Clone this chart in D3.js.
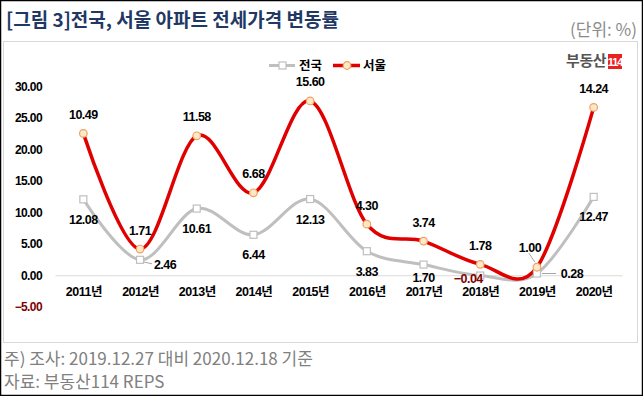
<!DOCTYPE html>
<html>
<head>
<meta charset="utf-8">
<script src="https://cdn.jsdelivr.net/npm/d3@7"></script>
<style>
  body { margin: 0; background: #fff; }
  svg { display: block; font-family: "Liberation Sans", "Noto Sans CJK KR", sans-serif; }
</style>
</head>
<body>
<svg id="chart" width="643" height="396"></svg>
<script>
var years = ["2011년", "2012년", "2013년", "2014년", "2015년", "2016년", "2017년", "2018년", "2019년", "2020년"];
var national = [12.08, 2.46, 10.61, 6.44, 12.13, 3.83, 1.70, -0.04, 0.28, 12.47];
var seoul = [10.49, 1.71, 11.58, 6.68, 15.60, 4.30, 3.74, 1.78, 1.00, 14.24];
var yTicks = [-5, 0, 5, 10, 15, 20, 25, 30];
var seriesNames = ["전국", "서울"];

var svg = d3.select("#chart");

// outer frame and chart box
svg.append("rect")
	.attr("x", 0.5).attr("y", 0.5).attr("width", 642).attr("height", 395)
	.attr("fill", "#fff").attr("stroke", "#000").attr("stroke-width", 1.5);
svg.append("rect")
	.attr("x", 3.5).attr("y", 41.5).attr("width", 634).attr("height", 301)
	.attr("fill", "none").attr("stroke", "#d9d9d9");

svg.append("text")
	.attr("x", 6).attr("y", 27)
	.attr("font-family", "Noto Sans CJK KR")
	.attr("font-weight", "bold").attr("font-size", 19)
	.attr("fill", "#1f3864")
	.text("[그림 3]전국, 서울 아파트 전세가격 변동률");
svg.append("text")
	.attr("x", 637).attr("y", 36)
	.attr("text-anchor", "end")
	.attr("font-family", "Noto Sans CJK KR")
	.attr("font-size", 17).attr("fill", "#8c8c8c")
	.text("(단위: %)");

svg.append("text")
	.attr("x", 4).attr("y", 365)
	.attr("font-family", "Noto Sans CJK KR")
	.attr("font-size", 17).attr("fill", "#808080")
	.text("주) 조사: 2019.12.27 대비 2020.12.18 기준");
svg.append("text")
	.attr("x", 4).attr("y", 388)
	.attr("font-family", "Noto Sans CJK KR")
	.attr("font-size", 17).attr("fill", "#808080")
	.text("자료: 부동산114 REPS");

// logo
svg.append("text")
	.attr("x", 606).attr("y", 66)
	.attr("text-anchor", "end")
	.attr("font-family", "Noto Sans CJK KR")
	.attr("font-weight", "bold").attr("font-size", 15)
	.attr("letter-spacing", -0.5)
	.attr("fill", "#555")
	.text("부동산");
svg.append("rect")
	.attr("x", 608).attr("y", 54).attr("width", 14).attr("height", 15)
	.attr("fill", "#e8231f");
svg.append("text")
	.attr("x", 615).attr("y", 66)
	.attr("text-anchor", "middle")
	.attr("font-weight", "bold").attr("font-size", 11)
	.attr("letter-spacing", -1)
	.attr("fill", "#fff")
	.text("114");

var x = d3.scalePoint().domain(years).range([55, 622]).padding(0.5);
var y = d3.scaleLinear().domain([-5, 30]).range([306.7, 86.7]);

// seoul is stacked on top of national
var rows = years.map(function(d, i) { return { year: d, "전국": national[i], "서울": seoul[i] }; });
var stacked = d3.stack().keys(seriesNames)
	.offset(d3.stackOffsetNone)(rows);

var yAxis = svg.append("g")
	.attr("transform", "translate(45,0)")
	.call(d3.axisLeft(y).tickValues(yTicks).tickSize(0).tickPadding(3).tickFormat(d3.format(".2f")));
yAxis.select(".domain").remove();
yAxis.selectAll("text")
	.attr("font-family", "Liberation Sans")
	.attr("font-weight", "bold").attr("font-size", 12)
	.attr("letter-spacing", -0.6)
	.attr("fill", function(d) { return d < 0 ? "#800000" : "#000"; });

var xAxis = svg.append("g")
	.attr("transform", "translate(0," + y(0) + ")")
	.call(d3.axisBottom(x).tickSize(0).tickSizeOuter(0).tickPadding(12));
xAxis.select(".domain").attr("stroke", "#d9d9d9").attr("stroke-width", 1.2);
xAxis.selectAll("text")
	.attr("font-family", "Liberation Sans, Noto Sans CJK KR")
	.attr("font-weight", "bold").attr("font-size", 12.5)
	.attr("letter-spacing", -0.5)
	.attr("fill", "#000");

var line = d3.line()
	.x(function(d) { return x(d.data.year); })
	.y(function(d) { return y(d[1]); })
	.curve(d3.curveCardinal.tension(0));

var colors = { "전국": "#bfbfbf", "서울": "#e00000" };
var widths = { "전국": 3, "서울": 3.5 };

svg.append("g").selectAll("path")
	.data(stacked)
	.enter()
	.append("path")
	.attr("d", line)
	.attr("fill", "none")
	.attr("stroke", function(s) { return colors[s.key]; })
	.attr("stroke-width", function(s) { return widths[s.key]; });

// leader lines
var leaders = [
	{ key: 0, i: 1, x1: 3, y1: 2, x2: 12, y2: 4 },
	{ key: 0, i: 8, x1: 5, y1: 0, x2: 19, y2: 0 },
	{ key: 1, i: 8, x1: -8, y1: -14, x2: -2, y2: -5 }
];
svg.append("g").selectAll("line")
	.data(leaders)
	.enter()
	.append("line")
	.attr("x1", function(d) { return x(years[d.i]) + d.x1; })
	.attr("y1", function(d) { return y(stacked[d.key][d.i][1]) + d.y1; })
	.attr("x2", function(d) { return x(years[d.i]) + d.x2; })
	.attr("y2", function(d) { return y(stacked[d.key][d.i][1]) + d.y2; })
	.attr("stroke", "#a6a6a6").attr("stroke-width", 1);

// markers
svg.append("g").selectAll("rect")
	.data(stacked[0])
	.enter()
	.append("rect")
	.attr("x", function(d) { return x(d.data.year) - 3.5; })
	.attr("y", function(d) { return y(d[1]) - 3.5; })
	.attr("width", 7).attr("height", 7)
	.attr("fill", "#fff").attr("stroke", "#bfbfbf").attr("stroke-width", 1.2);
svg.append("g").selectAll("circle")
	.data(stacked[1])
	.enter()
	.append("circle")
	.attr("cx", function(d) { return x(d.data.year); })
	.attr("cy", function(d) { return y(d[1]); })
	.attr("r", 3.8)
	.attr("fill", "#fde9c8").attr("stroke", "#f0a060").attr("stroke-width", 1.2);

// data labels: national below, seoul above, a few moved aside
var nudge = {
	"0-1": [25, 5], "0-6": [0, 13], "0-7": [-12, 2.5], "0-8": [35, 0],
	"1-8": [-7, -20]
};
var labelG = svg.append("g")
	.attr("font-weight", "bold").attr("font-size", 12.5)
	.attr("letter-spacing", -0.5)
	.attr("text-anchor", "middle");
stacked.forEach(function(s, k) {
	var vals = k === 0 ? national : seoul;
	labelG.selectAll("text.s" + k)
		.data(s)
		.enter()
		.append("text")
		.attr("class", "s" + k)
		.attr("x", function(d, i) {
			var n = nudge[k + "-" + i];
			return x(d.data.year) + (n ? n[0] : 0);
		})
		.attr("y", function(d, i) {
			var n = nudge[k + "-" + i];
			return y(d[1]) + (n ? n[1] : (k === 0 ? 20 : -19));
		})
		.attr("dy", "0.36em")
		.attr("fill", function(d, i) { return vals[i] < 0 ? "#800000" : "#000"; })
		.text(function(d, i) { return d3.format(".2f")(vals[i]); });
});

// legend
var legend = svg.append("g").attr("transform", "translate(0,65.5)");
legend.append("line").attr("x1", 269).attr("x2", 295).attr("stroke", colors["전국"]).attr("stroke-width", 3);
legend.append("rect").attr("x", 279).attr("y", -3.5).attr("width", 7).attr("height", 7)
	.attr("fill", "#fff").attr("stroke", "#bfbfbf").attr("stroke-width", 1.2);
legend.append("line").attr("x1", 333).attr("x2", 360).attr("stroke", colors["서울"]).attr("stroke-width", 3.5);
legend.append("circle").attr("cx", 347).attr("r", 3.8)
	.attr("fill", "#fde9c8").attr("stroke", "#f0a060").attr("stroke-width", 1.2);
legend.selectAll("text")
	.data(seriesNames)
	.enter()
	.append("text")
	.attr("x", function(d, i) { return i === 0 ? 299 : 363; })
	.attr("dy", "0.36em")
	.attr("font-family", "Noto Sans CJK KR")
	.attr("font-weight", "bold").attr("font-size", 12.5)
	.text(function(d) { return d; });
</script>
</body>
</html>
